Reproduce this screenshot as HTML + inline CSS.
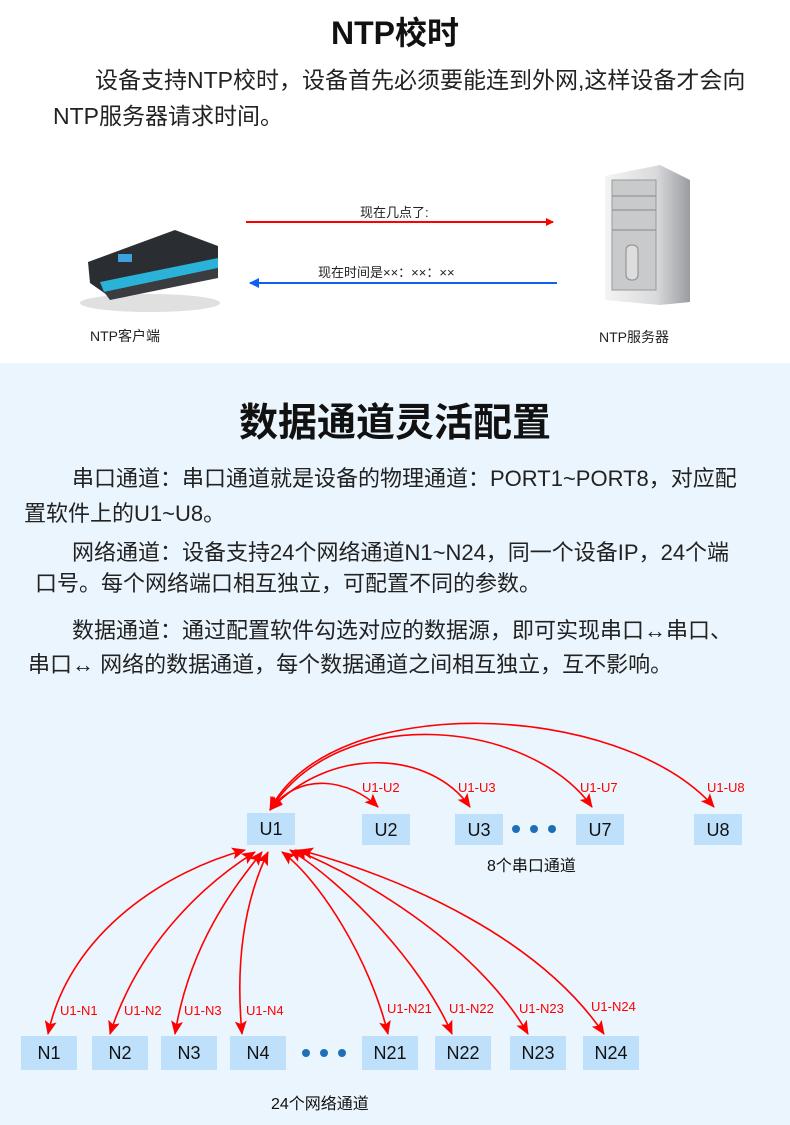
<!DOCTYPE html>
<html><head><meta charset="utf-8"><style>
body{margin:0;width:790px;height:1125px;position:relative;font-family:"Liberation Sans","Noto Sans CJK SC",sans-serif;background:#fff;overflow:hidden}
.t{position:absolute;white-space:nowrap;color:#222}
#blue{position:absolute;left:0;top:363px;width:790px;height:762px;background:#eaf5fd}
</style></head><body>
<div id="blue"></div>
<div class="t" style="left:0;width:790px;text-align:center;top:8px;font-size:32px;font-weight:bold;color:#111">NTP校时</div>
<div class="t" style="left:95px;top:61px;font-size:23px">设备支持NTP校时，设备首先必须要能连到外网,这样设备才会向</div>
<div class="t" style="left:53px;top:97px;font-size:23px">NTP服务器请求时间。</div>

<svg style="position:absolute;left:0;top:0" width="790" height="1125">
<defs>
<marker id="ar" markerWidth="8" markerHeight="8" refX="7" refY="4" orient="auto" markerUnits="userSpaceOnUse"><path d="M0,0 L8,4 L0,8z" fill="#f00"/></marker>
<marker id="ab" markerWidth="10" markerHeight="10" refX="9" refY="5" orient="auto" markerUnits="userSpaceOnUse"><path d="M0,0 L10,5 L0,10z" fill="#1060f0"/></marker>
<marker id="m" markerWidth="14" markerHeight="12" refX="13" refY="6" orient="auto-start-reverse" markerUnits="userSpaceOnUse"><path d="M0,0 L14,6 L0,12 L3,6z" fill="#f00"/></marker>
<linearGradient id="sv" x1="0" x2="1"><stop offset="0" stop-color="#f4f4f4"/><stop offset="0.6" stop-color="#d9dadc"/><stop offset="1" stop-color="#9a9ca0"/></linearGradient>
</defs>
<line x1="246" y1="222" x2="553" y2="222" stroke="#f00" stroke-width="2" marker-end="url(#ar)"/>
<line x1="557" y1="283" x2="250" y2="283" stroke="#1060f0" stroke-width="2" marker-end="url(#ab)"/>
<ellipse cx="150" cy="303" rx="70" ry="9" fill="#ccc" opacity="0.6"/>
<path d="M88,262 L175,230 L218,246 L218,273 L110,297 L90,283z" fill="#2a2d31"/>
<path d="M100,282 L218,258 L218,268 L104,292z" fill="#2bb2d8"/>
<path d="M104,292 L218,268 L218,278 L110,300z" fill="#3a3c40"/>
<rect x="118" y="254" width="14" height="8" fill="#3fa0e0"/>
<path d="M605,176 L660,165 L690,180 L690,302 L660,305 L605,300z" fill="url(#sv)"/>
<rect x="612" y="180" width="44" height="110" fill="#c9cacc" stroke="#999"/>
<line x1="612" y1="196" x2="656" y2="196" stroke="#888"/><line x1="612" y1="210" x2="656" y2="210" stroke="#888"/><line x1="612" y1="230" x2="656" y2="230" stroke="#888"/>
<rect x="626" y="245" width="12" height="35" rx="5" fill="#ddd" stroke="#888"/>
</svg>
<div class="t" style="left:360px;top:202px;font-size:13px">现在几点了:</div>
<div class="t" style="left:318px;top:262px;font-size:13px">现在时间是××：××：××</div>
<div class="t" style="left:90px;top:326px;font-size:14px">NTP客户端</div>
<div class="t" style="left:599px;top:327px;font-size:14px">NTP服务器</div>

<div class="t" style="left:0;width:790px;text-align:center;top:392px;font-size:39px;font-weight:bold;color:#111">数据通道灵活配置</div>
<div class="t" style="left:72px;top:461px;font-size:22px">串口通道：串口通道就是设备的物理通道：PORT1~PORT8，对应配</div>
<div class="t" style="left:24px;top:496px;font-size:22px">置软件上的U1~U8。</div>
<div class="t" style="left:72px;top:535px;font-size:22px">网络通道：设备支持24个网络通道N1~N24，同一个设备IP，24个端</div>
<div class="t" style="left:35px;top:566px;font-size:22px">口号。每个网络端口相互独立，可配置不同的参数。</div>
<div class="t" style="left:72px;top:613px;font-size:22px">数据通道：通过配置软件勾选对应的数据源，即可实现串口↔串口、</div>
<div class="t" style="left:28px;top:647px;font-size:22px">串口↔ 网络的数据通道，每个数据通道之间相互独立，互不影响。</div>

<svg style="position:absolute;left:0;top:0" width="790" height="1125">
<g fill="#bfe0fa">
<rect x="247" y="813" width="48" height="32"/><rect x="362" y="814" width="48" height="31"/><rect x="455" y="814" width="48" height="31"/><rect x="576" y="814" width="48" height="31"/><rect x="694" y="814" width="48" height="31"/>
<rect x="21" y="1036" width="56" height="34"/><rect x="92" y="1036" width="56" height="34"/><rect x="161" y="1036" width="56" height="34"/><rect x="230" y="1036" width="56" height="34"/><rect x="362" y="1036" width="56" height="34"/><rect x="435" y="1036" width="56" height="34"/><rect x="510" y="1036" width="56" height="34"/><rect x="583" y="1036" width="56" height="34"/>
</g>
<g fill="#1e6fb8"><circle cx="516" cy="829" r="4"/><circle cx="534" cy="829" r="4"/><circle cx="552" cy="829" r="4"/><circle cx="306" cy="1053" r="4"/><circle cx="324" cy="1053" r="4"/><circle cx="342" cy="1053" r="4"/></g>
<g fill="none" stroke="#f00" stroke-width="1.6" marker-end="url(#m)" marker-start="url(#m)">
<path d="M270,810 C300,770 350,780 378,807"/>
<path d="M270,810 C330,745 430,750 470,807"/>
<path d="M270,810 C340,700 530,720 592,807"/>
<path d="M270,810 C330,690 620,700 714,807"/>
<path d="M48,1034 C70,930 170,870 245,850"/>
<path d="M110,1034 C140,940 210,880 255,852"/>
<path d="M175,1034 C190,940 240,880 262,852"/>
<path d="M242,1034 C235,960 245,900 268,852"/>
<path d="M388,1034 C370,960 320,880 282,852"/>
<path d="M452,1034 C420,960 340,880 290,850"/>
<path d="M528,1034 C480,950 370,880 295,850"/>
<path d="M604,1034 C540,940 410,880 300,850"/>
</g>
<g font-family="Liberation Sans, sans-serif" font-size="13" fill="#f00">
<text x="362" y="792">U1-U2</text><text x="458" y="792">U1-U3</text><text x="580" y="792">U1-U7</text><text x="707" y="792">U1-U8</text>
<text x="60" y="1015">U1-N1</text><text x="124" y="1015">U1-N2</text><text x="184" y="1015">U1-N3</text><text x="246" y="1015">U1-N4</text>
<text x="387" y="1013">U1-N21</text><text x="449" y="1013">U1-N22</text><text x="519" y="1013">U1-N23</text><text x="591" y="1011">U1-N24</text>
</g>
<g font-family="Liberation Sans, sans-serif" font-size="18" fill="#111" text-anchor="middle">
<text x="271" y="835">U1</text><text x="386" y="836">U2</text><text x="479" y="836">U3</text><text x="600" y="836">U7</text><text x="718" y="836">U8</text>
<text x="49" y="1059">N1</text><text x="120" y="1059">N2</text><text x="189" y="1059">N3</text><text x="258" y="1059">N4</text><text x="390" y="1059">N21</text><text x="463" y="1059">N22</text><text x="538" y="1059">N23</text><text x="611" y="1059">N24</text>
</g>
</svg>
<div class="t" style="left:487px;top:852px;font-size:16px;color:#111">8个串口通道</div>
<div class="t" style="left:271px;top:1090px;font-size:16px;color:#111">24个网络通道</div>
</body></html>
